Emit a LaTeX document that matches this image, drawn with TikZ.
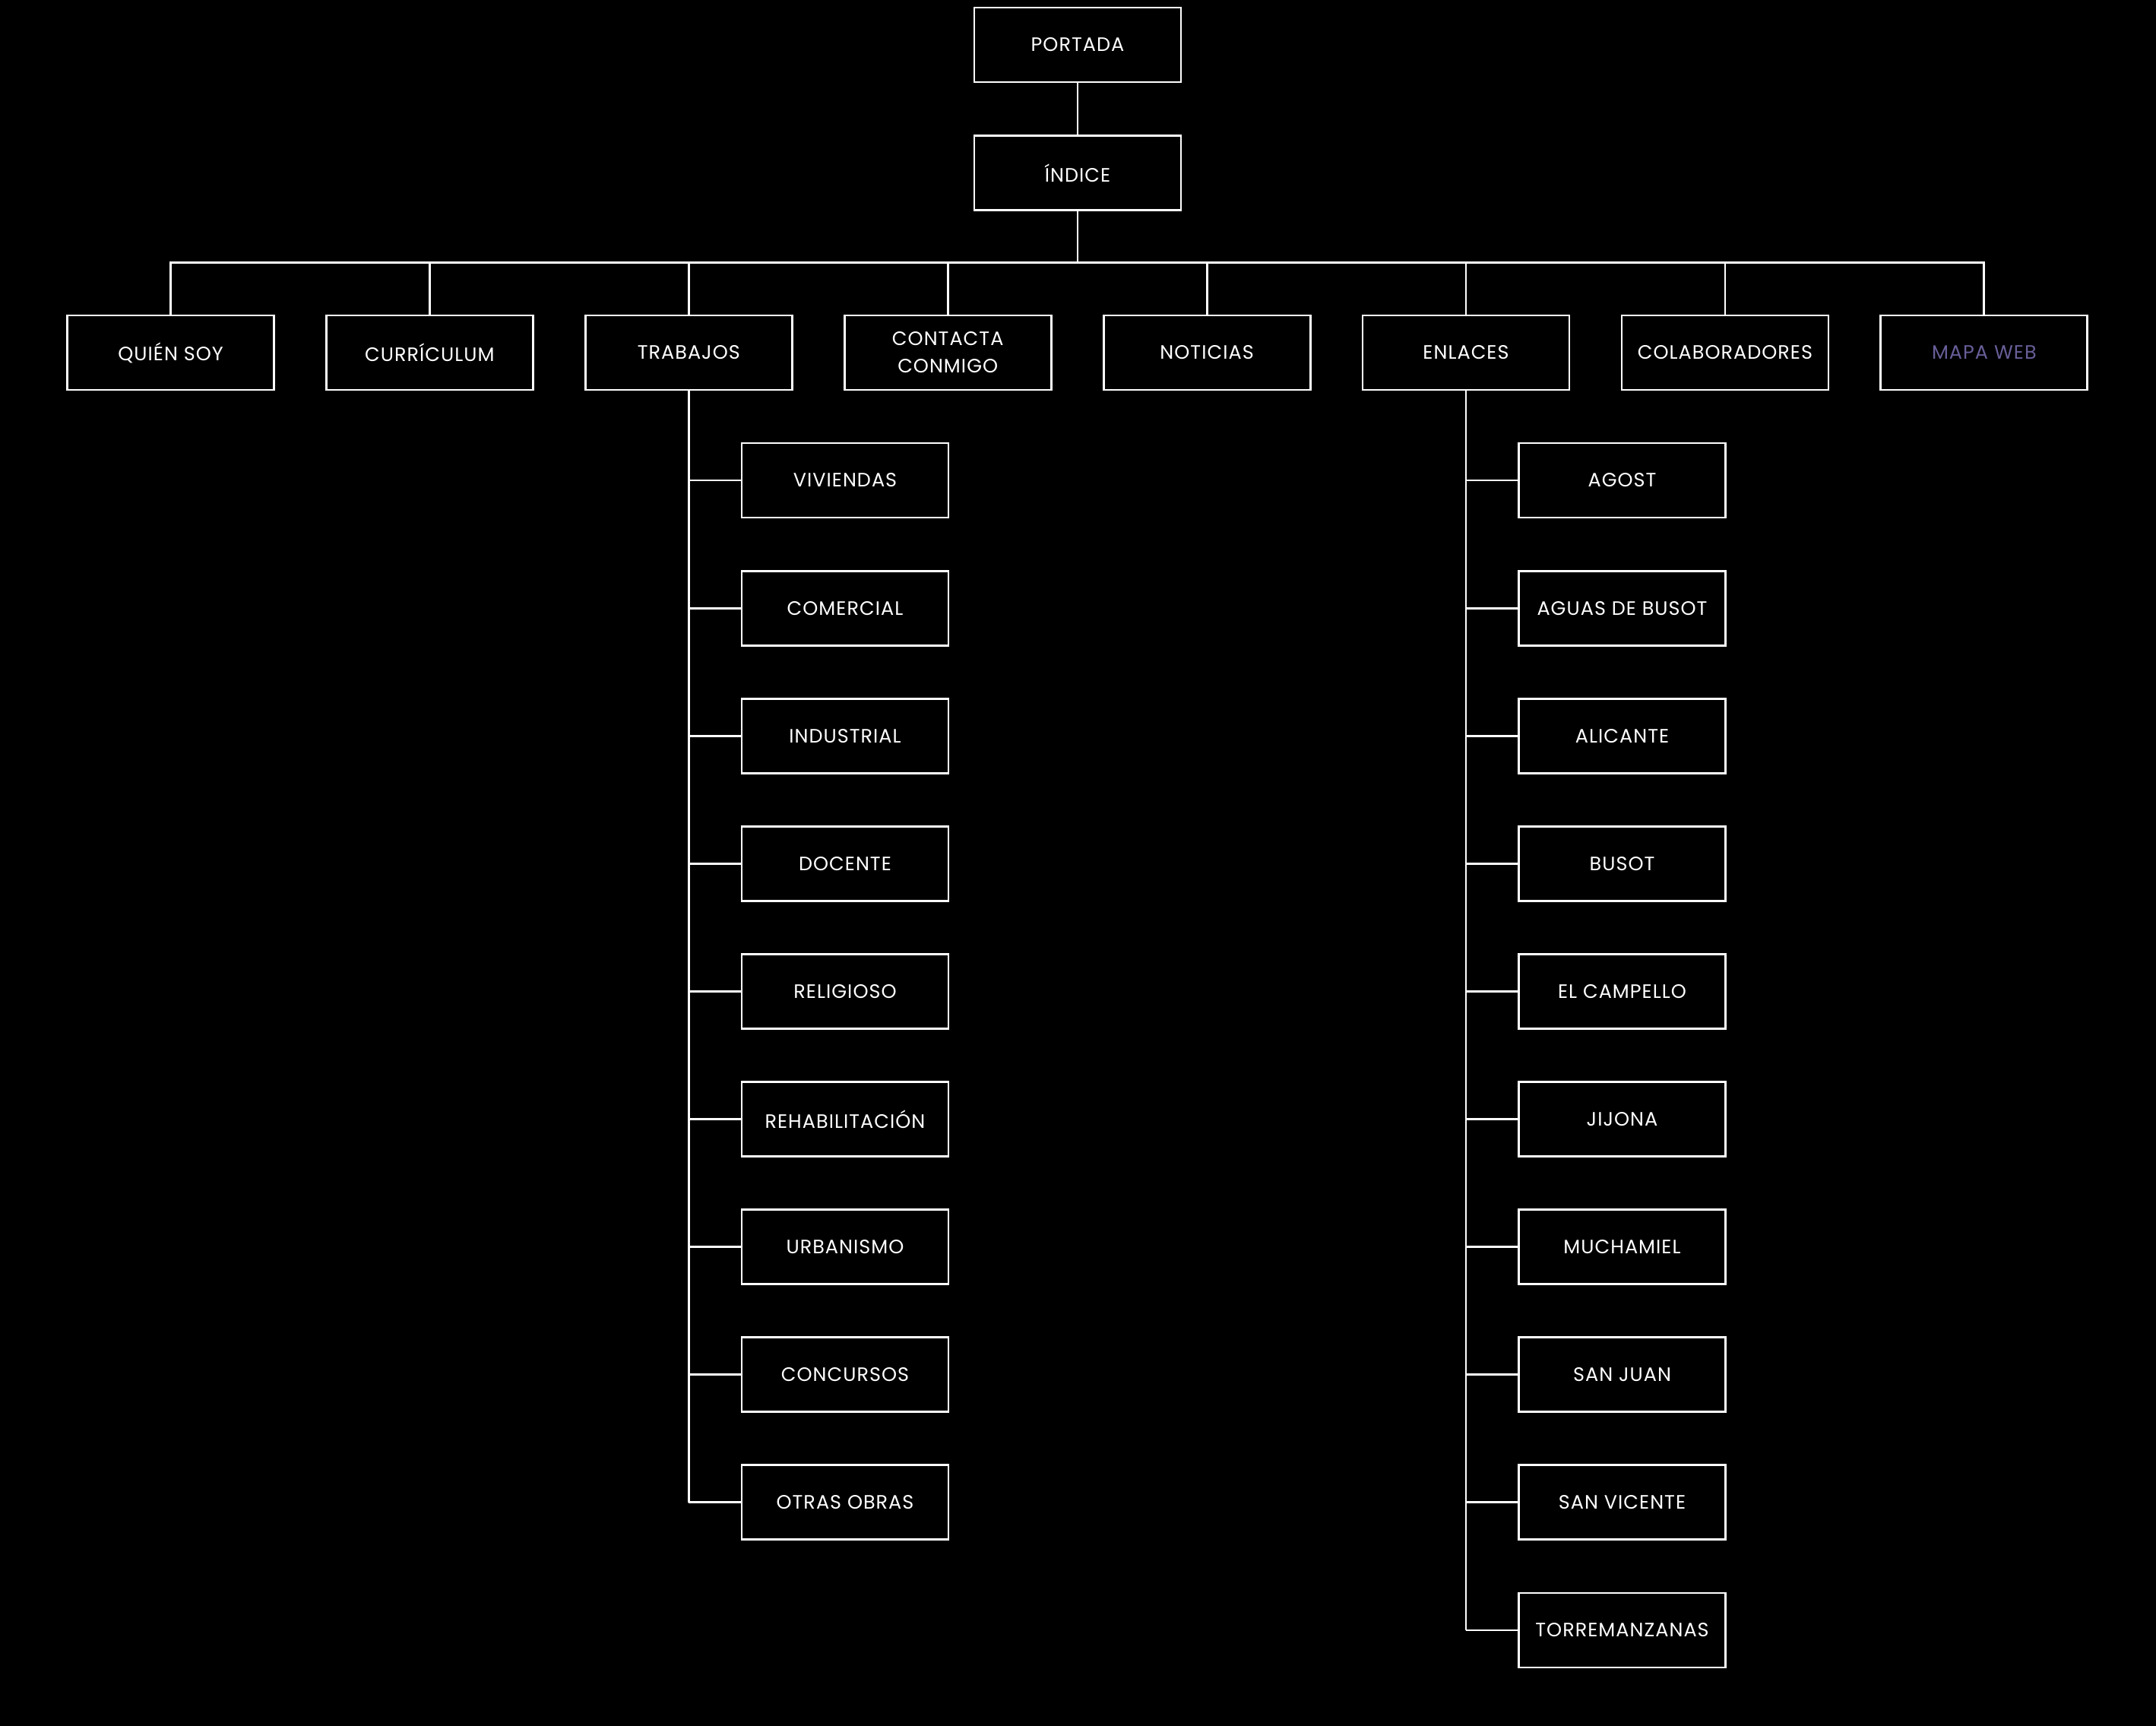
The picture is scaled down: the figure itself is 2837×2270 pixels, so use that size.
\documentclass[tikz,border=0pt]{standalone}
\usepackage{fontspec}
\setmainfont{Poppins}[LetterSpace=4]
\definecolor{mapacol}{RGB}{104,94,152}
\begin{document}
\begin{tikzpicture}[x=1pt,y=-1pt,
  box/.style={draw=white,line width=2.8pt,minimum width=272pt,minimum height=98pt,inner sep=0pt,text=white,font=\fontsize{25.5}{36}\selectfont,align=center},
  conn/.style={draw=white,line width=2.8pt}]
\useasboundingbox (0,0) rectangle (2837,2270);
\fill[black] (-20,-20) rectangle (2857,2290);
\node[box] (portada) at (1418,59) {PORTADA};
\node[box] (indice) at (1418,227.5) {ÍNDICE};
\coordinate (bus) at (1418,345.7);
\node[box] (quien) at (224.5,464) {QUIÉN SOY};
\node[box] (curriculum) at (565.4,464) {CURRÍCULUM};
\node[box] (trabajos) at (906.3,464) {TRABAJOS};
\node[box] (contacta) at (1247.2,464) {CONTACTA\\CONMIGO};
\node[box] (noticias) at (1588.1,464) {NOTICIAS};
\node[box] (enlaces) at (1929,464) {ENLACES};
\node[box] (colab) at (2269.9,464) {COLABORADORES};
\node[box,text=mapacol] (mapa) at (2610.8,464) {MAPA WEB};
\draw[conn] (portada) -- (indice);
\draw[conn] (indice.south) -- (bus);
\draw[conn] (quien.north) -- (quien.north |- bus) -- (mapa.north |- bus) -- (mapa.north);
\foreach \n in {curriculum,trabajos,contacta,noticias,enlaces,colab}
  \draw[conn] (\n.north) -- (\n.north |- bus);
% TRABAJOS children
\foreach \t [count=\i from 0] in {VIVIENDAS,COMERCIAL,INDUSTRIAL,DOCENTE,RELIGIOSO,REHABILITACIÓN,URBANISMO,CONCURSOS,OTRAS OBRAS}{
  \node[box] (t\i) at (1112,632+168.1*\i) {\t};
  \draw[conn] (t\i.west) -- (trabajos.south |- t\i.west);
}
\draw[conn] (trabajos.south) -- (trabajos.south |- t8.west);
% ENLACES children
\foreach \t [count=\i from 0] in {AGOST,AGUAS DE BUSOT,ALICANTE,BUSOT,EL CAMPELLO,JIJONA,MUCHAMIEL,SAN JUAN,SAN VICENTE,TORREMANZANAS}{
  \node[box] (e\i) at (2134.5,632+168.1*\i) {\t};
  \draw[conn] (e\i.west) -- (enlaces.south |- e\i.west);
}
\draw[conn] (enlaces.south) -- (enlaces.south |- e9.west);
\end{tikzpicture}
\end{document}
